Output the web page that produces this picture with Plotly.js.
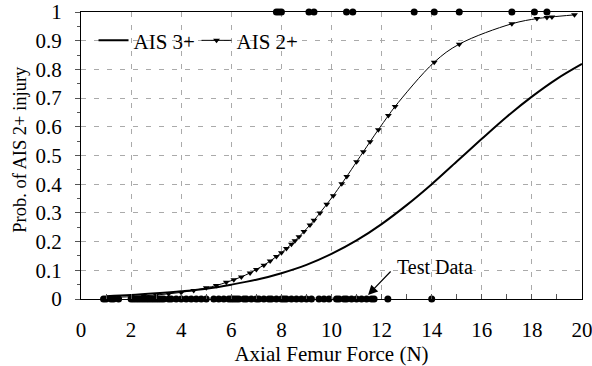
<!DOCTYPE html>
<html>
<head>
<meta charset="utf-8">
<script src="https://cdn.plot.ly/plotly-3.0.1.min.js"></script>
<style>html,body{margin:0;padding:0;background:#fff;}#chart{width:592px;height:366px;}</style>
</head>
<body>
<div id="chart"></div>
<script>
// AIS 3+ risk curve
const ais3X = [1,2,3,4,5,6,7,8,9,10,11,12,13,14,15,16,17,18,19,20];
const ais3Y = [0.010,0.014,0.020,0.027,0.036,0.050,0.067,0.090,0.119,0.157,0.204,0.261,0.327,0.400,0.479,0.558,0.635,0.705,0.767,0.819];

// AIS 2+ risk curve with markers
const ais2X = [1.0,1.3,2.0,2.5,3.0,3.5,4.0,4.5,5.0,5.4,5.8,6.1,6.4,6.75,7.0,7.3,7.55,7.8,8.0,8.2,8.4,8.54,8.7,8.9,9.14,9.3,9.54,9.81,10.07,10.41,10.61,11.0,11.27,11.54,11.87,12.27,12.54,14.1,15.1,17.2,18.2,18.6,18.8,19.7];
const ais2Y = [0.005,0.006,0.008,0.011,0.014,0.018,0.023,0.030,0.039,0.047,0.058,0.067,0.077,0.091,0.103,0.118,0.132,0.148,0.161,0.176,0.191,0.203,0.217,0.235,0.258,0.274,0.300,0.330,0.360,0.402,0.427,0.478,0.513,0.548,0.590,0.639,0.671,0.825,0.888,0.959,0.977,0.981,0.983,0.990];

// Test data (injury = 1, no injury = 0)
const testInjX = [7.8,7.9,8.0,9.1,9.3,10.6,10.85,13.3,14.1,15.1,17.2,18.1,18.6];
const testNoX = [0.9,1.0,1.2,1.3,1.5,2.0,2.1,2.2,2.3,2.4,2.5,2.6,2.7,2.8,2.9,3.0,3.1,3.2,3.3,3.5,3.6,3.8,4.0,4.2,4.4,4.6,4.8,5.0,5.3,5.5,5.7,5.9,6.0,6.1,6.2,6.3,6.5,6.6,6.8,7.0,7.1,7.3,7.5,7.6,7.8,8.0,8.1,8.2,8.4,8.6,8.8,9.0,9.2,9.5,9.7,9.9,10.2,10.3,10.5,10.6,10.8,11.0,11.2,11.4,11.6,11.7,12.25,14.0];

const xTickVals = [0,2,4,6,8,10,12,14,16,18,20];
const yTickVals = [0,0.1,0.2,0.3,0.4,0.5,0.6,0.7,0.8,0.9,1];

const FONT = 'Liberation Serif, Times New Roman, serif';

const traces = [
  {x: testNoX, y: testNoX.map(()=>0), mode:'markers', type:'scatter', showlegend:false,
   marker:{symbol:'circle', size:7, color:'#000'}, cliponaxis:false, hoverinfo:'skip'},
  {x: testInjX, y: testInjX.map(()=>1), mode:'markers', type:'scatter', showlegend:false,
   marker:{symbol:'circle', size:7, color:'#000'}, cliponaxis:false, hoverinfo:'skip'},
  {x: ais3X, y: ais3Y, mode:'lines', type:'scatter', name:'AIS 3+',
   line:{color:'#000', width:2, shape:'spline'}},
  {x: ais2X, y: ais2Y, mode:'lines+markers', type:'scatter', name:'AIS 2+',
   line:{color:'#000', width:1, shape:'spline'}, marker:{symbol:'triangle-down', size:6, color:'#000'}, cliponaxis:false}
];

const layout = {
  width:592, height:366,
  margin:{l:81, r:10, t:12, b:67},
  paper_bgcolor:'#fff', plot_bgcolor:'#fff',
  font:{family:FONT, size:21, color:'#000'},
  showlegend:true,
  legend:{orientation:'h', x:0.025, y:0.9, xanchor:'left', yanchor:'middle', bgcolor:'rgba(0,0,0,0)',
          font:{family:FONT, size:21}, itemwidth:30, tracegroupgap:0, entrywidth:58},
  xaxis:{range:[0,20], tickvals:xTickVals, ticktext:xTickVals.map(String),
         showgrid:true, gridcolor:'#aaa', griddash:'5px,8px', gridwidth:1,
         showline:true, linecolor:'#000', linewidth:1, mirror:true,
         ticks:'inside', ticklen:5, tickcolor:'#555', ticklabeloverflow:'allow',
         minor:{dtick:1, ticks:'inside', ticklen:5, tickcolor:'#555', showgrid:false},
         zeroline:false, tickfont:{family:FONT, size:21}, ticklabelstandoff:12,
         title:{text:'Axial Femur Force (N)', font:{family:FONT, size:21}, standoff:2}},
  yaxis:{range:[0,1], tickvals:yTickVals, ticktext:yTickVals.map(String),
         showgrid:true, gridcolor:'#aaa', griddash:'5px,8px', gridwidth:1,
         showline:true, linecolor:'#000', linewidth:1, mirror:true,
         ticks:'outside', ticklen:5, tickcolor:'#555',
         minor:{dtick:0.05, ticks:'outside', ticklen:3, tickcolor:'#555', showgrid:false},
         zeroline:false, tickfont:{family:FONT, size:21}, ticklabelstandoff:9},
  annotations:[
    {x:-0.122, y:0.523, xref:'paper', yref:'paper', text:'Prob. of AIS 2+ injury', textangle:-90,
     showarrow:false, xanchor:'center', yanchor:'middle', font:{family:FONT, size:18.5, color:'#000'}},
    {x:11.46, y:0.014, xref:'x', yref:'y', ax:24, ay:-25, axref:'pixel', ayref:'pixel',
     text:'', showarrow:true, arrowhead:2, arrowsize:1.6, arrowwidth:1.2, arrowcolor:'#000'},
    {x:12.53, y:0.11, xref:'x', yref:'y', text:'Test Data', showarrow:false, xanchor:'left', yanchor:'middle',
     font:{family:FONT, size:20, color:'#000'}}
  ]
};

Plotly.newPlot('chart', traces, layout, {staticPlot:true, displayModeBar:false});
</script>
</body>
</html>
